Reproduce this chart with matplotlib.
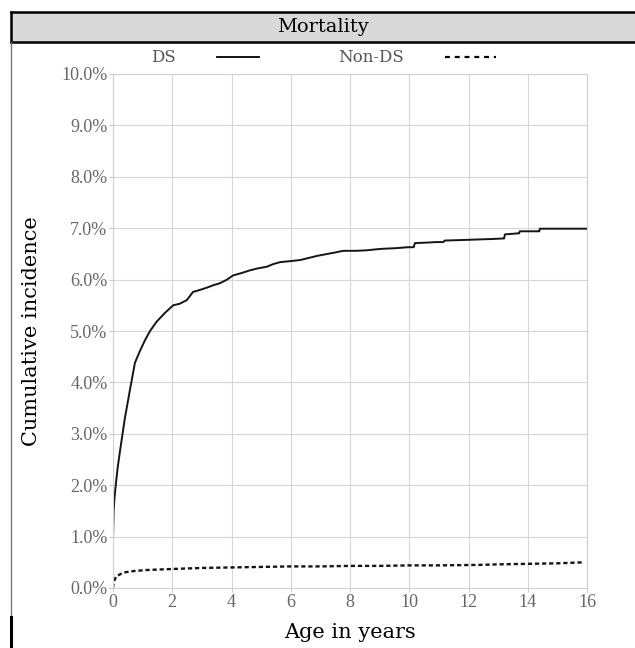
import numpy as np
import matplotlib
matplotlib.use("Agg")
import matplotlib.pyplot as plt
from matplotlib.lines import Line2D
from matplotlib.patches import Rectangle
from matplotlib.ticker import FuncFormatter

# cumulative incidence (%)
ds_age = [0.0, 0.02, 0.05, 0.1, 0.16, 0.24, 0.4, 0.57, 0.74, 0.9, 1.08, 1.25, 1.47, 1.75,
          2.03, 2.25, 2.49, 2.7, 2.94, 3.2, 3.38, 3.61, 3.85, 4.05, 4.35, 4.62, 4.9, 5.19,
          5.4, 5.64, 6.0, 6.31, 6.6, 6.88, 7.15, 7.43, 7.77, 8.2, 8.56, 8.9, 9.12, 9.5,
          9.96, 10.15, 10.19, 10.6, 10.92, 11.15, 11.2, 11.8, 12.27, 12.8, 13.17, 13.2,
          13.23, 13.68, 13.71, 13.73, 14.36, 14.39, 14.41, 16.0]
ds_inc = [0.93, 1.5, 1.75, 2.04, 2.35, 2.68, 3.3, 3.85, 4.38, 4.6, 4.82, 5.0, 5.18, 5.35,
          5.5, 5.53, 5.6, 5.76, 5.8, 5.85, 5.89, 5.93, 6.0, 6.08, 6.13, 6.18, 6.22, 6.25,
          6.3, 6.34, 6.36, 6.38, 6.42, 6.46, 6.49, 6.52, 6.56, 6.56, 6.57, 6.59, 6.6, 6.61,
          6.63, 6.63, 6.71, 6.72, 6.73, 6.73, 6.76, 6.77, 6.78, 6.79, 6.8, 6.8,
          6.88, 6.9, 6.9, 6.94, 6.94, 6.94, 6.99, 6.99]

nonds_age = [0.0, 0.01, 0.05, 0.1, 0.34, 0.7, 1.14, 2.0, 3.0, 4.0, 5.0, 6.0, 7.0, 8.0,
             9.0, 10.0, 11.0, 12.39, 13.0, 14.0, 15.0, 15.9]
nonds_inc = [0.0, 0.06, 0.15, 0.22, 0.30, 0.33, 0.35, 0.37, 0.39, 0.40, 0.41, 0.42, 0.42,
             0.43, 0.43, 0.44, 0.44, 0.45, 0.46, 0.47, 0.48, 0.50]

x_ticks = list(range(0, 17, 2))
y_ticks = list(range(0, 11))

W, H = 635, 648
def fx(px):
    return px / W
def fy(py):
    return 1 - py / H

serif = "DejaVu Serif"
tickfont = "Liberation Serif"

fig = plt.figure(figsize=(W / 100, H / 100), dpi=100)

# header band
fig.add_artist(Rectangle((fx(11), fy(42)), fx(635) - fx(11), fy(12) - fy(42),
                         transform=fig.transFigure, facecolor="#d9d9d9", edgecolor="none"))
fig.add_artist(Line2D([fx(11), 1], [fy(12), fy(12)], color="black", lw=1.8))
fig.add_artist(Line2D([fx(11), 1], [fy(42), fy(42)], color="black", lw=1.8))
fig.add_artist(Line2D([fx(11), fx(11)], [fy(12), fy(42)], color="black", lw=1.8))
fig.add_artist(Line2D([fx(11), fx(11)], [fy(42), fy(617)], color="#777777", lw=1.0))
fig.add_artist(Line2D([fx(11), fx(11)], [fy(617), 0], color="black", lw=2.2))
fig.text(fx(323), fy(27), "Mortality", family=serif, fontsize=14, ha="center", va="center")

# legend row
fig.text(fx(163), fy(57), "DS", family=serif, fontsize=12, color="#555555", ha="center", va="center")
fig.add_artist(Line2D([fx(217), fx(259)], [fy(57), fy(57)], color="black", lw=1.3))
fig.text(fx(371), fy(57), "Non-DS", family=serif, fontsize=12, color="#555555", ha="center", va="center")
fig.add_artist(Line2D([fx(445), fx(496)], [fy(57), fy(57)], color="black", lw=1.6,
                      linestyle=(0, (2.2, 2.2))))

ax = fig.add_axes([fx(113), fy(588), fx(587) - fx(113), fy(74) - fy(588)])
ax.plot(ds_age, ds_inc, color="#151515", lw=1.4)
ax.plot(nonds_age, nonds_inc, color="#151515", lw=1.7, linestyle=(0, (1.8, 1.2)))

ax.set_xlim(0, 16)
ax.set_ylim(0, 10)
ax.set_xticks(x_ticks)
ax.set_yticks(y_ticks)
ax.yaxis.set_major_formatter(FuncFormatter(lambda v, p: f"{v:.1f}%"))
ax.grid(True, color="#d6d6d6", lw=0.8)
ax.set_axisbelow(True)
for s in ax.spines.values():
    s.set_color("#d0d0d0")
    s.set_linewidth(0.8)
ax.tick_params(length=3, width=0.6, color="#bbbbbb", labelcolor="#666666", labelsize=13, pad=1)
for lab in ax.get_xticklabels() + ax.get_yticklabels():
    lab.set_family(tickfont)

fig.text(fx(32), fy(331), "Cumulative incidence", family=serif, fontsize=15, rotation=90,
         ha="center", va="center")
fig.text(fx(350), fy(632), "Age in years", family=serif, fontsize=15, ha="center", va="center")

fig.savefig("out.png", dpi=100)
